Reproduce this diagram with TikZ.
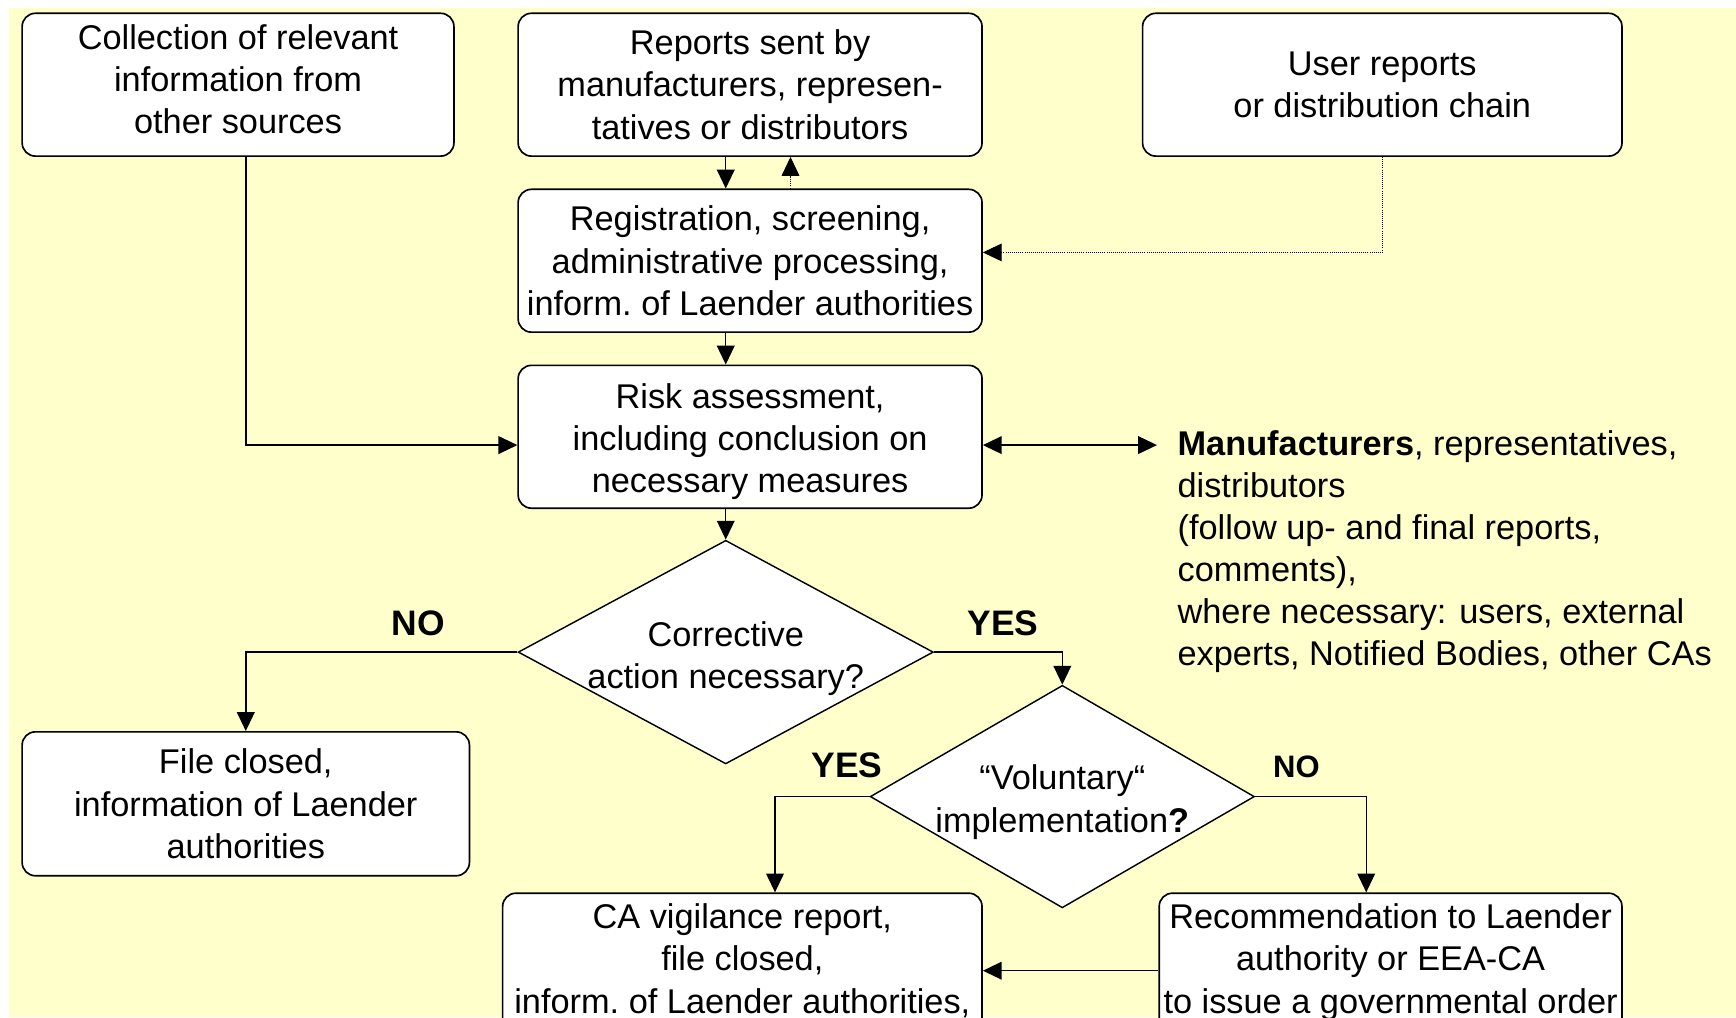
\documentclass[tikz,border=0pt]{standalone}
\usepackage{fontspec}
\setmainfont{Liberation Sans}
\usepackage{tikz}
\usetikzlibrary{arrows.meta}
\usetikzlibrary{shapes.geometric}
\definecolor{paleyellow}{RGB}{255,255,204}

\begin{document}
\begin{tikzpicture}[x=1pt, y=-1pt, >={Triangle[length=17pt, width=16pt]}, line width=1.3pt,
        every node/.style={font=\fontsize{31}{38}\selectfont},
        box/.style={draw, line width=1.5pt, fill=white, rounded corners=12pt, align=center, inner sep=0pt},
        decision/.style={draw, fill=white, diamond, align=center, inner sep=-6pt},
        answer/.style={font=\fontsize{32}{38}\selectfont\bfseries}]
        \useasboundingbox (0,0) rectangle (1568,919);
        \clip (0,0) rectangle (1568,919);
        \fill [white] (0,0) rectangle (1568,919);
        \fill [paleyellow] (8,7) rectangle (1568,919);
        \node [box, minimum width=390pt, minimum height=129pt] (coll) at (215,76.5) {Collection of relevant\\information from\\other sources\rule[-10pt]{0pt}{10pt}};
        \node [box, minimum width=419pt, minimum height=129pt] (reps) at (677.5,76.5) {Reports sent by\\manufacturers, represen-\\tatives or distributors};
        \node [box, minimum width=433pt, minimum height=129pt] (user) at (1248.5,76.5) {User reports\\or distribution chain};
        \node [box, minimum width=419pt, minimum height=129pt] (reg) at (677.5,235.5) {Registration, screening,\\administrative processing,\\inform.\ of Laender authorities};
        \node [box, minimum width=419pt, minimum height=129pt] (risk) at (677.5,394.5) {\rule{0pt}{30.5pt}Risk assessment,\\including conclusion on\\necessary measures};
        \node [decision, shape aspect=1.86, minimum width=375pt, minimum height=202pt] (dec1) at (655.5,589) {\rule{0pt}{34pt}Corrective\\action necessary?};
        \node [box, minimum width=404pt, minimum height=130pt] (closed) at (222,726) {File closed,\\information of Laender\\authorities};
        \node [decision, shape aspect=1.73, minimum width=347pt, minimum height=201pt] (dec2) at (959.5,719.5) {\rule{0pt}{32.5pt}“Voluntary“\\implementation\textbf{?}};
        \node [box, minimum width=433pt, minimum height=156pt, anchor=north] (cavig) at (670.5,806) {CA vigilance report,\\file closed,\\inform.\ of Laender authorities,\\\mbox{}};
        \node [box, minimum width=418pt, minimum height=156pt, anchor=north] (rec) at (1256,806) {Recommendation to Laender\\authority or EEA-CA\\to issue a governmental order\\\mbox{}};
        \node [anchor=west, align=left, inner sep=0pt] (mfr) at (1063,498.5) {\textbf{Manufacturers}, representatives,\\distributors\\(follow up- and final reports,\\comments),\\where necessary: users, external\\experts, Notified Bodies, other CAs};
        \node [answer] (no1) at (378,563) {NO};
        \node [answer] (yes1) at (906,563) {YES};
        \node [answer] (yes2) at (765,691) {YES};
        \node [answer, font=\fontsize{28}{34}\selectfont\bfseries] (no2) at (1171,693) {NO};
        \draw [->] (reps.south -| dec1.north) -- (reg.north -| dec1.north);
        \draw [->, densely dotted, line width=0.9pt] ([xshift=36.5pt]reg.north) -- ([xshift=36.5pt]reps.south);
        \draw [->, densely dotted, line width=0.9pt] (user.south) |- ([yshift=7.5pt]reg.east);
        \draw [->] (reg.south -| dec1.north) -- (risk.north -| dec1.north);
        \draw [->] (coll.south -| closed.north) |- ([yshift=-7.5pt]risk.west);
        \draw [<->, shorten >=18pt] ([yshift=-7.5pt]risk.east) -- ([yshift=-7.5pt]risk.east -| mfr.west);
        \draw [->] (risk.south -| dec1.north) -- (dec1.north);
        \draw [->] (dec1.west) -| (closed.north);
        \draw [->] (dec1.east) -| (dec2.north);
        \draw [->] (dec2.west) -| ([xshift=29.5pt]cavig.north);
        \draw [->] (dec2.east) -| ([xshift=-22pt]rec.north);
        \draw [->] ([yshift=8pt]rec.west) -- ([yshift=8pt]cavig.east);
    \end{tikzpicture}
\end{document}
